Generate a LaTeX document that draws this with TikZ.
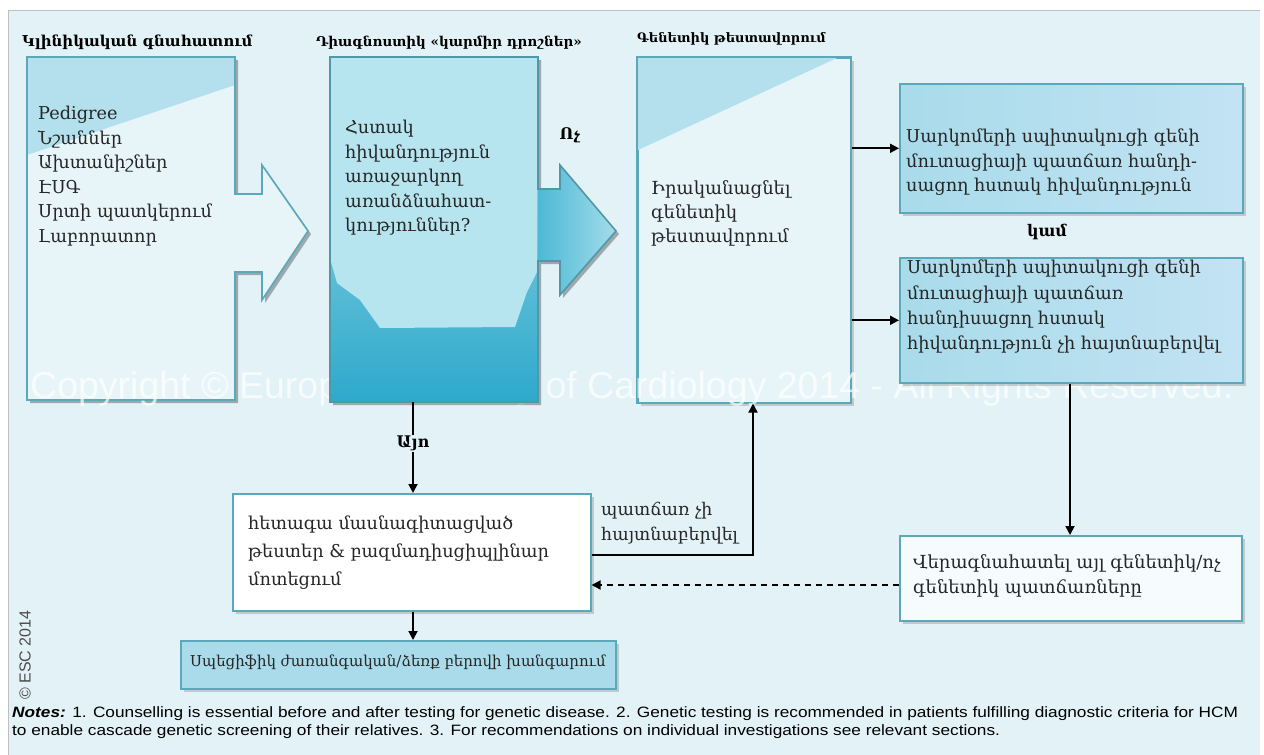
\documentclass[tikz,border=0pt]{standalone}
\usepackage{fontspec}
\setmainfont{DejaVu Serif}
\newfontfamily\sansf{Liberation Sans}
\newfontfamily\notef[FakeStretch=1.15]{Liberation Sans}
\usetikzlibrary{arrows.meta,shadows,calc}
\definecolor{bg}{HTML}{E2F2F7}
\definecolor{edge}{HTML}{5AA8BA}
\definecolor{light}{HTML}{E7F5F9}
\definecolor{tri}{HTML}{B3E0EC}
\definecolor{rbl}{HTML}{A9DBEA}
\definecolor{rbr}{HTML}{C2E3F3}
\definecolor{dtop}{HTML}{A9DEEB}
\definecolor{dbot}{HTML}{2EA9CB}
\definecolor{blob}{HTML}{B6E4EF}
\definecolor{arrL}{HTML}{4DB9D6}
\definecolor{arrR}{HTML}{A3DCEA}
\definecolor{rlight}{HTML}{F6FBFD}
\begin{document}
\begin{tikzpicture}[x=1pt,y=-1pt,
  txt/.style={font=\fontsize{17.7}{24.5}\selectfont, align=left, anchor=north west, inner sep=0pt, text=black!85},
  ttl/.style={font=\bfseries\fontsize{15}{16}\selectfont, anchor=base west, inner sep=0pt},
  lbl/.style={font=\bfseries\fontsize{16}{18}\selectfont, inner sep=1pt},
  conn/.style={line width=1.8pt, -{Triangle[length=9pt,width=9pt]}},
  shd/.style={drop shadow={opacity=.35, shadow xshift=3pt, shadow yshift=-3pt}},
  rbox/.style={draw=edge, line width=1.6pt, left color=rbl, right color=rbr, anchor=north west, inner sep=0pt, shd},
  wbox/.style={draw=edge, line width=1.6pt, fill=rlight, anchor=north west, inner sep=0pt, shd},
  ghost/.style={anchor=north west, inner sep=0pt},
  pA/.style={insert path={(27,57) -- (235,57) -- (235,194) -- (262,194) -- (262,165) -- (308,231) -- (262,300) -- (262,272) -- (235,272) -- (235,400) -- (27,400) -- cycle}},
  pB/.style={insert path={(330,57) -- (538,57) -- (538,189) -- (560,189) -- (560,165) -- (616,231) -- (560,295) -- (560,261) -- (538,261) -- (538,402) -- (330,402) -- cycle}}
]
\useasboundingbox (0,0) rectangle (1264,755);
\fill[white] (0,0) rectangle (1264,755);
\fill[bg] (8,10) rectangle (1260,755);
\draw[gray!50, line width=1pt] (8,755) -- (8,10) -- (1260,10);

% titles
\node[ttl] (t1) at (22,46) {Կլինիկական գնահատում};
\node[ttl, font=\bfseries\fontsize{13.5}{14}\selectfont] (t2) at (316,46) {Դիագնոստիկ «կարմիր դրոշներ»};
\node[ttl, font=\bfseries\fontsize{13}{14}\selectfont] (t3) at (637,42) {Գենետիկ թեստավորում};

% box 1 with arrow
\fill[black, opacity=.3, xshift=3pt, yshift=-3pt, pA];
\fill[light, pA];
\begin{scope}
  \clip[pA];
  \fill[tri] (27,57) -- (235,57) -- (235,85) -- (27,155) -- cycle;
\end{scope}
\draw[edge, line width=1.6pt, pA];
\node[ghost, minimum width=208pt, minimum height=343pt] (b1) at (27,57) {};
\node[txt] (b1t) at (38,106) {Pedigree\\Նշաններ\\Ախտանիշներ\\ԷՍԳ\\Սրտի պատկերում\\Լաբորատոր};

% box 3
\node[wbox, fill=light, minimum width=213pt, minimum height=345pt] (b3) at (637,57) {};
\fill[tri] (638,58) -- (837,58) -- (638,150) -- cycle;
\draw[edge, line width=1.6pt] (b3.north west) rectangle (b3.south east);
\node[txt, font=\fontsize{18}{24}\selectfont] (b3t) at (651,180) {Իրականացնել\\գենետիկ\\թեստավորում};

% watermark
\node[font=\sansf\fontsize{37.5}{37.5}\selectfont, text=white, opacity=.7, anchor=base west, inner sep=0pt] (wm) at (30,398) {Copyright © European Society of Cardiology 2014 - All Rights Reserved.};

% box 2 with arrow
\fill[black, opacity=.3, xshift=3pt, yshift=-3pt, pB];
\shade[top color=dtop, bottom color=dbot, pB];
\shade[left color=arrL, right color=arrR] (538,189) -- (560,189) -- (560,165) -- (616,231) -- (560,295) -- (560,261) -- (538,261) -- cycle;
\fill[blob] (331,58) -- (537,58) -- (537,272) -- (527,292) -- (515,327) -- (380,328) -- (360,300) -- (337,283) -- (331,262) -- cycle;
\draw[edge!90!black, line width=1.6pt, pB];
\node[ghost, minimum width=208pt, minimum height=345pt] (b2) at (330,57) {};
\node[txt] (b2t) at (345,120) {Հստակ\\հիվանդություն\\առաջարկող\\առանձնահատ-\\կություններ?};

\node[lbl] (no) at (570,135) {Ոչ};

% right boxes
\node[rbox, minimum width=343pt, minimum height=129pt] (r1) at (899,83) {};
\node[txt] (r1t) at (906,129) {Սարկոմերի սպիտակուցի գենի\\մուտացիայի պատճառ հանդի-\\սացող հստակ հիվանդություն};
\node[lbl] (kam) at (1047,232) {կամ};
\node[rbox, minimum width=343pt, minimum height=125pt] (r2) at (899,257) {};
\node[txt, font=\fontsize{17.7}{25.3}\selectfont] (r2t) at (907,260) {Սարկոմերի սպիտակուցի գենի\\մուտացիայի պատճառ\\հանդիսացող հստակ\\հիվանդություն չի հայտնաբերվել};

\node[wbox, minimum width=342pt, minimum height=85pt] (r3) at (899,535) {};
\node[txt, font=\fontsize{18}{25}\selectfont] (r3t) at (913,554) {Վերագնահատել այլ գենետիկ/ոչ\\գենետիկ պատճառները};

\node[wbox, fill=white, minimum width=358pt, minimum height=117pt] (b4) at (232,493) {};
\node[txt, font=\fontsize{17.7}{28}\selectfont] (b4t) at (248,516) {հետագա մասնագիտացված\\թեստեր \& բազմադիսցիպլինար\\մոտեցում};

\node[rbox, left color=rbl, right color=rbl, minimum width=435pt, minimum height=48pt] (b5) at (180,640) {};
\node[txt, font=\fontsize{15}{20}\selectfont] (b5t) at (190,655) {Սպեցիֆիկ ժառանգական/ձեռք բերովի խանգարում};

% connectors
\coordinate (ax) at (413,0);
\coordinate (vx) at (1070,0);
\coordinate (lp) at (753,555);
\coordinate (dy) at (0,585);
\draw[conn] (b3.east |- r1.west) -- (r1.west);
\draw[conn] (b3.east |- r2.west) -- (r2.west);
\draw[conn] (r2.south -| vx) -- (r3.north -| vx);
\draw[conn] (b2.south -| ax) -- (b4.north -| ax) node[lbl, fill=bg, pos=0.45] (yes) {Այո};
\draw[conn] (b4.south -| ax) -- (b5.north -| ax);
\draw[conn] (b4.east |- lp) -- (lp) -- (lp |- b3.south);
\node[txt, font=\fontsize{17.4}{25}\selectfont] (nf) at (601,502) {պատճառ չի\\հայտնաբերվել};
\draw[conn, dash pattern=on 6pt off 5pt] (r3.west |- dy) -- (b4.east |- dy);

% footer
\node[rotate=90, anchor=west, inner sep=0pt, font=\sansf\fontsize{16}{16}\selectfont, text=black!70] (esc) at (25,700) {© ESC 2014};
\node[anchor=north west, inner sep=0pt, font=\notef\fontsize{15}{18.5}\selectfont, align=left] (notes) at (12,706) {\textbf{\textit{Notes:}} 1. Counselling is essential before and after testing for genetic disease. 2. Genetic testing is recommended in patients fulfilling diagnostic criteria for HCM\\to enable cascade genetic screening of their relatives. 3. For recommendations on individual investigations see relevant sections.};
\end{tikzpicture}
\end{document}
